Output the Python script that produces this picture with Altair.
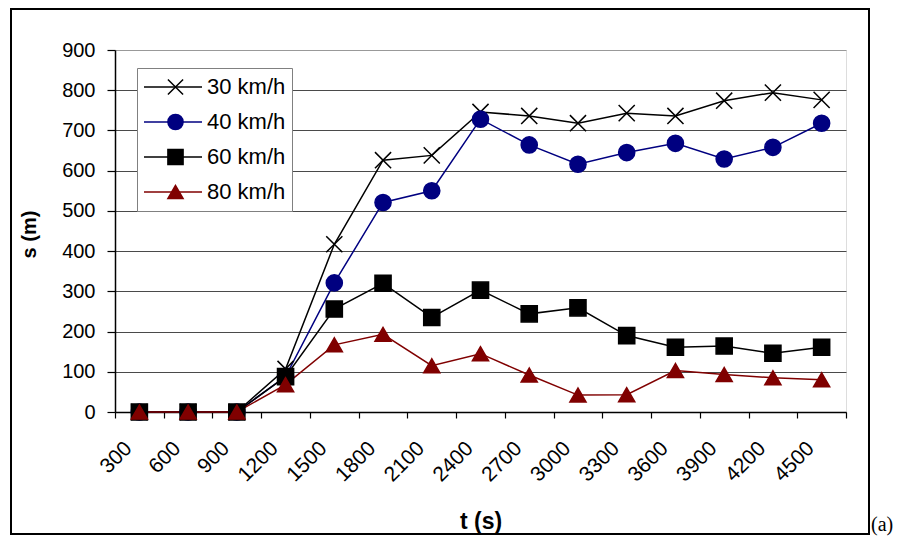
import altair as alt
import pandas as pd

t_labels = ["300", "600", "900", "1200", "1500", "1800", "2100", "2400",
            "2700", "3000", "3300", "3600", "3900", "4200", "4500"]
series_names = ["30 km/h", "40 km/h", "60 km/h", "80 km/h"]
series_colors = ["#000000", "#000080", "#000000", "#800000"]
series_shapes = ["M-1,-1L1,1M1,-1L-1,1", "circle", "square", "triangle-up"]

s30 = [0, 0, 0, 107, 417, 626, 638, 746, 736, 718, 743, 736, 774, 794, 776]
s40 = [0, 0, 0, 88, 321, 521, 550, 728, 664, 616, 645, 668, 629, 658, 718]
s60 = [0, 0, 0, 88, 256, 320, 235, 303, 244, 259, 190, 161, 164, 146, 161]
s80 = [0, 0, 0, 68, 167, 193, 115, 145, 92, 42, 43, 103, 93, 85, 80]

y_ticks = [0, 100, 200, 300, 400, 500, 600, 700, 800, 900]

rows = []
for name, vals in zip(series_names, [s30, s40, s60, s80]):
    for t, v in zip(t_labels, vals):
        rows.append({"t": t, "s": v, "series": name})
df = pd.DataFrame(rows)

FONT = "Liberation Sans"

x_enc = alt.X(
    "t:O", sort=t_labels,
    scale=alt.Scale(type="band", paddingInner=0, paddingOuter=0),
    axis=alt.Axis(
        title="t (s)", titleFont=FONT, titleFontSize=23, titleFontWeight="bold",
        titleColor="black", titleBaseline="middle", titleY=109,
        labelAngle=-45, labelAlign="right", labelBaseline="middle",
        labelPadding=27, labelOffset=-11, labelFont=FONT, labelFontSize=21,
        labelColor="black", tickBand="extent", tickSize=6, tickColor="black",
        domainColor="black", domainWidth=1.5, tickWidth=1.2, grid=False,
    ),
)
y_enc = alt.Y(
    "s:Q",
    scale=alt.Scale(domain=[0, 900], nice=False),
    axis=alt.Axis(
        title="s (m)", titleFont=FONT, titleFontSize=20, titleFontWeight="bold",
        titleColor="black", titleX=-86, titleY=184, titleBaseline="middle",
        values=y_ticks, labelFont=FONT, labelFontSize=20, labelColor="black",
        labelPadding=12, tickSize=8, tickColor="black", tickWidth=1.2,
        domainColor="black", domainWidth=1.5,
        grid=True, gridWidth=1,
        gridColor={"condition": {"test": "datum.value === 900", "value": "#999999"},
                   "value": "#4a4a4a"},
    ),
)

color_scale = alt.Scale(domain=series_names, range=series_colors)

legend_lines = alt.Legend(
    title=None, orient="none", legendX=22, legendY=18,
    symbolType="stroke", symbolSize=3364, symbolStrokeWidth=1.5,
    clipHeight=26, rowPadding=9, padding=6,
    labelFont=FONT, labelFontSize=22, labelColor="black", labelOffset=4,
    labelExpr="datum.label + '\u00a0'",
    fillColor="white", strokeColor="#808080",
)
legend_marks = alt.Legend(
    title=None, orient="none", legendX=22, legendY=18,
    symbolSize=230, symbolStrokeWidth=1.5, symbolOffset=21.5, symbolOpacity=1,
    clipHeight=26, rowPadding=9, padding=6,
    labelFont=FONT, labelFontSize=22, labelExpr="''",
)

lines = alt.Chart(df).mark_line(strokeWidth=1.5).encode(
    x=x_enc, y=y_enc,
    color=alt.Color("series:N", scale=color_scale, legend=legend_lines),
)

points = alt.Chart(df).mark_point(filled=True, size=260, strokeWidth=1.5, opacity=1).encode(
    x=x_enc, y=y_enc,
    shape=alt.Shape("series:N", scale=alt.Scale(domain=series_names, range=series_shapes),
                    legend=legend_marks),
    fill=alt.Fill("series:N", scale=color_scale, legend=legend_marks),
    stroke=alt.Stroke("series:N", scale=color_scale, legend=legend_marks),
)

one = pd.DataFrame({"k": [0]})
frame = alt.Chart(one).mark_rect(filled=False, stroke="black", strokeWidth=2, clip=False).encode(
    x=alt.value(-104), x2=alt.value(754), y=alt.value(-41), y2=alt.value(484),
)
tag = alt.Chart(one).mark_text(
    text="(a)", font="Liberation Serif", fontSize=20, align="left",
    baseline="alphabetic", color="black", clip=False,
).encode(x=alt.value(756), y=alt.value(481))

chart = alt.layer(lines, points, frame, tag).resolve_legend(
    color="independent", fill="independent", stroke="independent", shape="independent"
).properties(
    width=731, height=362,
    autosize=alt.AutoSizeParams(type="none"),
    padding={"left": 107, "top": 42, "right": 47, "bottom": 124},
).configure_view(stroke="#999999", strokeWidth=2).configure(background="white")

chart.save("out.html", embed_options={"renderer": "svg", "actions": False})
